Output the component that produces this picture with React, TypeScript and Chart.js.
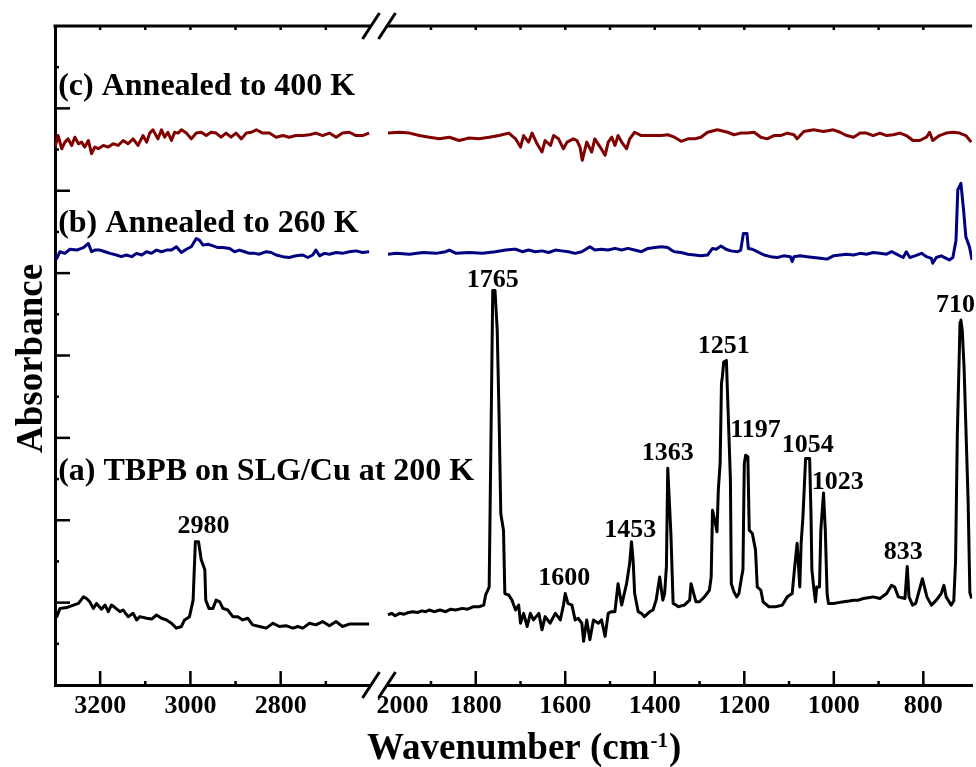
import React, { useEffect, useRef } from 'react';
import { Chart, registerables } from 'chart.js';

Chart.register(...registerables);

// ---------- data (wavenumber cm-1, absorbance in arbitrary units) ----------
const spectrumA_left: [number, number][] = [
  [3300,0.91],[3296,0.83],[3289,0.93],[3274,0.94],[3259,0.97],[3248,0.99],[3237,1.07],[3230,1.05],[3223,1.01],[3215,0.93],
  [3208,0.99],[3197,0.92],[3189,0.97],[3182,0.89],[3175,0.97],[3167,0.94],[3156,0.89],[3149,0.91],[3138,0.83],[3127,0.87],
  [3119,0.79],[3112,0.83],[3097,0.81],[3086,0.80],[3075,0.85],[3064,0.81],[3053,0.79],[3042,0.75],[3031,0.69],[3020,0.71],
  [3013,0.79],[3002,0.83],[2994,1.03],[2989,1.74],[2982,1.74],[2976,1.52],[2968,1.40],[2966,1.03],[2959,0.93],[2950,0.93],
  [2943,1.03],[2935,1.01],[2928,0.93],[2917,0.91],[2906,0.83],[2895,0.83],[2884,0.79],[2873,0.81],[2862,0.73],[2847,0.71],
  [2832,0.69],[2817,0.75],[2803,0.71],[2788,0.72],[2773,0.69],[2762,0.71],[2751,0.69],[2736,0.75],[2722,0.73],[2707,0.77],
  [2692,0.72],[2677,0.77],[2663,0.71],[2648,0.74],[2626,0.74],[2604,0.74]
];
const spectrumA_right: [number, number][] = [
  [1996,0.85],[1988,0.87],[1980,0.84],[1970,0.87],[1960,0.86],[1950,0.88],[1941,0.89],[1930,0.88],[1920,0.90],[1912,0.89],
  [1904,0.91],[1893,0.89],[1880,0.91],[1867,0.89],[1856,0.92],[1845,0.91],[1830,0.93],[1818,0.92],[1805,0.95],[1793,0.95],
  [1782,0.97],[1778,1.09],[1770,1.19],[1762,4.79],[1757,4.79],[1752,4.31],[1748,3.30],[1744,2.08],[1738,1.88],[1735,1.11],
  [1726,1.09],[1719,1.03],[1711,0.91],[1704,0.97],[1700,0.75],[1693,0.87],[1685,0.71],[1678,0.87],[1671,0.79],[1659,0.87],
  [1652,0.67],[1645,0.83],[1634,0.75],[1622,0.87],[1611,0.79],[1604,0.97],[1600,1.11],[1594,0.99],[1585,0.97],[1578,0.79],
  [1571,0.81],[1563,0.75],[1559,0.53],[1552,0.79],[1545,0.55],[1537,0.79],[1526,0.75],[1519,0.79],[1511,0.59],[1504,0.87],
  [1497,0.89],[1489,0.89],[1482,1.23],[1474,0.97],[1463,1.23],[1456,1.48],[1452,1.74],[1448,1.48],[1445,1.11],[1437,0.89],
  [1430,0.87],[1423,0.83],[1411,0.89],[1404,0.91],[1397,1.03],[1389,1.31],[1382,1.03],[1378,1.11],[1374,1.44],[1371,2.63],
  [1364,1.84],[1359,0.99],[1352,0.97],[1348,0.95],[1334,0.97],[1322,1.03],[1319,1.23],[1313,1.11],[1308,1.01],[1300,1.01],
  [1289,1.07],[1278,1.15],[1274,1.31],[1271,2.12],[1266,2.00],[1261,1.86],[1258,2.37],[1254,2.69],[1251,3.66],[1249,3.74],
  [1246,3.92],[1240,3.94],[1236,3.30],[1231,2.49],[1229,1.23],[1223,1.13],[1217,1.07],[1212,1.11],[1206,1.31],[1203,1.40],
  [1200,2.69],[1197,2.79],[1192,2.77],[1189,1.88],[1182,1.84],[1175,1.64],[1171,1.19],[1163,1.15],[1158,1.01],[1145,0.95],
  [1130,0.95],[1115,0.97],[1104,1.07],[1093,1.11],[1088,1.40],[1082,1.72],[1076,1.19],[1073,1.72],[1069,2.04],[1063,2.75],
  [1054,2.75],[1051,2.08],[1049,1.40],[1045,1.19],[1041,1.01],[1038,1.19],[1032,1.19],[1029,1.88],[1023,2.33],[1019,1.88],
  [1015,1.11],[1012,0.99],[1001,0.99],[990,1.00],[978,1.01],[966,1.02],[956,1.03],[945,1.03],[934,1.05],[923,1.06],
  [912,1.07],[897,1.05],[882,1.11],[871,1.21],[864,1.19],[856,1.07],[841,1.05],[836,1.44],[832,1.07],[824,0.97],
  [817,0.99],[802,1.29],[792,1.07],[782,0.97],[771,1.03],[760,1.11],[754,1.21],[749,1.07],[738,0.97],[732,1.02],
  [728,1.50],[724,3.06],[718,4.40],[716,4.43],[713,4.30],[709,3.86],[700,2.25],[696,1.12],[692,1.05]
];
const spectrumB_left: [number, number][] = [
  [3300,5.18],[3296,5.18],[3289,5.26],[3278,5.24],[3267,5.29],[3252,5.28],[3237,5.31],[3226,5.36],[3219,5.26],[3212,5.28],
  [3200,5.28],[3189,5.26],[3178,5.24],[3164,5.22],[3153,5.20],[3142,5.22],[3130,5.20],[3119,5.24],[3108,5.22],[3097,5.26],
  [3086,5.24],[3075,5.28],[3064,5.26],[3053,5.28],[3042,5.28],[3031,5.32],[3020,5.25],[3009,5.29],[2998,5.32],[2987,5.42],
  [2980,5.40],[2972,5.34],[2961,5.35],[2950,5.33],[2939,5.31],[2928,5.31],[2913,5.30],[2902,5.26],[2891,5.28],[2880,5.26],
  [2869,5.24],[2858,5.24],[2847,5.23],[2832,5.26],[2821,5.25],[2810,5.22],[2795,5.20],[2781,5.19],[2766,5.21],[2751,5.22],
  [2740,5.19],[2729,5.22],[2722,5.28],[2714,5.21],[2703,5.24],[2692,5.23],[2677,5.25],[2663,5.24],[2648,5.26],[2633,5.27],
  [2619,5.25],[2604,5.26]
];
const spectrumB_right: [number, number][] = [
  [1996,5.23],[1978,5.24],[1948,5.23],[1918,5.25],[1889,5.24],[1867,5.26],[1859,5.28],[1844,5.24],[1815,5.25],[1785,5.24],
  [1756,5.26],[1733,5.28],[1715,5.29],[1711,5.29],[1696,5.26],[1682,5.28],[1667,5.26],[1652,5.27],[1637,5.25],[1622,5.28],
  [1608,5.27],[1593,5.26],[1578,5.24],[1563,5.26],[1545,5.32],[1534,5.28],[1519,5.29],[1504,5.28],[1489,5.30],[1474,5.28],
  [1460,5.30],[1445,5.28],[1430,5.26],[1415,5.30],[1400,5.31],[1385,5.32],[1371,5.31],[1363,5.28],[1356,5.26],[1341,5.25],
  [1326,5.23],[1311,5.22],[1297,5.21],[1282,5.22],[1271,5.30],[1263,5.29],[1252,5.33],[1241,5.29],[1230,5.27],[1215,5.26],
  [1208,5.28],[1202,5.48],[1194,5.48],[1191,5.30],[1182,5.29],[1171,5.26],[1156,5.22],[1141,5.20],[1126,5.19],[1112,5.21],
  [1097,5.20],[1093,5.14],[1089,5.20],[1075,5.21],[1060,5.20],[1045,5.19],[1030,5.18],[1015,5.17],[1001,5.21],[986,5.22],
  [971,5.23],[956,5.22],[941,5.24],[927,5.23],[912,5.25],[897,5.24],[882,5.23],[871,5.26],[860,5.23],[845,5.19],
  [838,5.26],[830,5.19],[819,5.21],[804,5.24],[793,5.20],[782,5.18],[779,5.12],[771,5.19],[760,5.21],[749,5.18],
  [742,5.16],[734,5.19],[727,5.40],[723,6.01],[716,6.09],[710,5.76],[705,5.44],[697,5.32],[691,5.16]
];
const spectrumC_left: [number, number][] = [
  [3300,6.53],[3293,6.67],[3285,6.51],[3278,6.59],[3271,6.63],[3263,6.55],[3256,6.65],[3248,6.57],[3241,6.59],[3234,6.53],
  [3226,6.61],[3219,6.45],[3212,6.53],[3204,6.51],[3193,6.55],[3182,6.53],[3171,6.57],[3160,6.55],[3149,6.61],[3138,6.57],
  [3127,6.63],[3116,6.55],[3105,6.67],[3097,6.59],[3090,6.70],[3083,6.74],[3072,6.63],[3064,6.74],[3057,6.65],[3050,6.71],
  [3042,6.61],[3035,6.71],[3027,6.70],[3020,6.74],[3009,6.70],[2998,6.63],[2987,6.70],[2976,6.71],[2965,6.67],[2954,6.71],
  [2943,6.70],[2932,6.65],[2921,6.70],[2910,6.65],[2899,6.70],[2887,6.63],[2876,6.70],[2865,6.71],[2854,6.74],[2840,6.70],
  [2825,6.70],[2810,6.65],[2795,6.67],[2781,6.65],[2766,6.67],[2751,6.67],[2736,6.68],[2722,6.70],[2707,6.67],[2692,6.70],
  [2677,6.65],[2663,6.70],[2648,6.71],[2633,6.67],[2619,6.67],[2604,6.70]
];
const spectrumC_right: [number, number][] = [
  [1996,6.70],[1970,6.71],[1948,6.70],[1926,6.67],[1904,6.65],[1881,6.63],[1859,6.65],[1837,6.61],[1815,6.64],[1793,6.63],
  [1770,6.65],[1748,6.67],[1726,6.70],[1711,6.63],[1700,6.53],[1693,6.67],[1682,6.59],[1674,6.70],[1663,6.57],[1652,6.47],
  [1645,6.61],[1633,6.55],[1626,6.67],[1615,6.63],[1604,6.51],[1596,6.59],[1582,6.63],[1574,6.61],[1567,6.53],[1562,6.37],
  [1552,6.59],[1541,6.47],[1534,6.63],[1522,6.53],[1511,6.43],[1504,6.59],[1496,6.65],[1489,6.55],[1482,6.67],[1474,6.59],
  [1463,6.51],[1456,6.63],[1445,6.71],[1430,6.67],[1415,6.67],[1400,6.67],[1385,6.67],[1371,6.68],[1356,6.65],[1341,6.60],
  [1326,6.63],[1311,6.63],[1297,6.65],[1282,6.71],[1260,6.74],[1237,6.71],[1223,6.68],[1208,6.70],[1193,6.70],[1178,6.71],
  [1163,6.65],[1149,6.63],[1134,6.67],[1119,6.67],[1104,6.70],[1089,6.68],[1082,6.63],[1067,6.72],[1045,6.74],[1023,6.72],
  [1001,6.74],[986,6.71],[971,6.67],[956,6.65],[941,6.70],[927,6.70],[912,6.67],[897,6.70],[882,6.67],[867,6.68],
  [852,6.70],[838,6.67],[823,6.61],[808,6.61],[793,6.65],[786,6.71],[779,6.61],[764,6.67],[749,6.70],[734,6.71],
  [719,6.70],[705,6.67],[693,6.59]
];

// peak annotations: text, anchor wavenumber, anchor absorbance (baseline of text)
const peakLabels = ['2980', '1765', '1600', '1453', '1363', '1251', '1197', '1054', '1023', '833', '710'];
const peakLabelWn = [2971, 1762, 1602, 1455, 1371, 1246, 1175, 1058, 991, 845, 728];
const peakLabelAbs = [1.84, 4.83, 1.21, 1.80, 2.73, 4.03, 3.01, 2.83, 2.38, 1.53, 4.53];
const peakLabelAxis = ['xl', 'xr', 'xr', 'xr', 'xr', 'xr', 'xr', 'xr', 'xr', 'xr', 'xr'];

const seriesLabels = ['(c) Annealed to 400 K', '(b) Annealed to 260 K', '(a) TBPB on SLG/Cu at 200 K'];
const seriesLabelWn = [3293, 3293, 3293];
const seriesLabelAbs = [7.16, 5.5, 2.49];

const leftRange = [2581, 3300];
const rightRange = [691, 2015];
const yRange = [0, 8];
const leftTickLabels = [3200, 3000, 2800];
const rightTickLabels = [2000, 1800, 1600, 1400, 1200, 1000, 800];

const colorA = '#000000';
const colorB = '#000080';
const colorC = '#800000';
const SERIF = "'Liberation Serif', 'Times New Roman', serif";

const decorPlugin = {
  id: 'decor',
  afterDraw(chart: any) {
    const { ctx, chartArea, scales } = chart;
    const xl = scales.xl, xr = scales.xr, y = scales.y;
    const { top, bottom, left, right } = chartArea;
    const bx = xl.right;
    ctx.save();
    ctx.strokeStyle = '#000';
    ctx.lineCap = 'butt';
    // top frame line
    ctx.lineWidth = 3;
    ctx.beginPath();
    ctx.moveTo(left - 1.5, top);
    ctx.lineTo(right, top);
    ctx.stroke();
    // x tick marks (inside)
    ctx.lineWidth = 2.5;
    for (const s of [xl, xr]) {
      for (const t of s.ticks) {
        const px = s.getPixelForValue(t.value);
        if (px < left + 4 || px > right - 6 || Math.abs(px - bx) < 14) continue;
        const major = t.value % 200 === 0;
        const len = major ? 14 : 4;
        ctx.beginPath();
        ctx.moveTo(px, bottom);
        ctx.lineTo(px, bottom - len);
        ctx.stroke();
        ctx.beginPath();
        ctx.moveTo(px, top);
        ctx.lineTo(px, top + 4);
        ctx.stroke();
      }
    }
    // y tick marks (inside)
    for (const t of y.ticks) {
      const py = y.getPixelForValue(t.value);
      if (t.value <= yRange[0] || t.value >= yRange[1]) continue;
      const major = Math.abs(t.value - Math.round(t.value)) < 1e-6;
      const len = major ? 15 : 4;
      ctx.beginPath();
      ctx.moveTo(left, py);
      ctx.lineTo(left + len, py);
      ctx.stroke();
    }
    // axis breaks
    for (const ay of [top, bottom]) {
      const k = 17 / 26;
      ctx.fillStyle = '#fff';
      ctx.beginPath();
      ctx.moveTo(bx - 8.5 - 4 * k, ay + 4);
      ctx.lineTo(bx - 8.5 + 4 * k, ay - 4);
      ctx.lineTo(bx + 7.5 + 4 * k, ay - 4);
      ctx.lineTo(bx + 7.5 - 4 * k, ay + 4);
      ctx.closePath();
      ctx.fill();
      ctx.lineWidth = 3;
      ctx.beginPath();
      ctx.moveTo(bx - 17, ay + 13);
      ctx.lineTo(bx, ay - 13);
      ctx.moveTo(bx - 1, ay + 13);
      ctx.lineTo(bx + 16, ay - 13);
      ctx.stroke();
    }
    // peak labels
    ctx.fillStyle = '#000';
    ctx.font = `bold 26px ${SERIF}`;
    ctx.textAlign = 'center';
    ctx.textBaseline = 'alphabetic';
    peakLabels.forEach((txt, i) => {
      const s = scales[peakLabelAxis[i]];
      ctx.fillText(txt, s.getPixelForValue(peakLabelWn[i]), y.getPixelForValue(peakLabelAbs[i]));
    });
    // series labels
    ctx.font = `bold 32px ${SERIF}`;
    ctx.textAlign = 'left';
    seriesLabels.forEach((txt, i) => {
      ctx.fillText(txt, xl.getPixelForValue(seriesLabelWn[i]), y.getPixelForValue(seriesLabelAbs[i]));
    });
    // y title
    ctx.save();
    ctx.translate(42, (top + bottom) / 2 + 3);
    ctx.rotate(-Math.PI / 2);
    ctx.font = `bold 37px ${SERIF}`;
    ctx.textAlign = 'center';
    ctx.fillText('Absorbance', 0, 0);
    ctx.restore();
    // x title with superscript
    const tx = 367, ty = 759;
    ctx.font = `bold 37px ${SERIF}`;
    ctx.textAlign = 'left';
    const p1 = 'Wavenumber (cm';
    ctx.fillText(p1, tx, ty);
    const w1 = ctx.measureText(p1).width;
    ctx.font = `bold 21px ${SERIF}`;
    const sup = '-1';
    ctx.fillText(sup, tx + w1 + 1, ty - 12);
    const w2 = ctx.measureText(sup).width;
    ctx.font = `bold 37px ${SERIF}`;
    ctx.fillText(')', tx + w1 + w2 + 2, ty);
    ctx.restore();
  }
};

function makeDataset(points: [number, number][], axis: string, color: string) {
  return {
    data: points.map(([x, v]) => ({ x, y: v })),
    xAxisID: axis,
    yAxisID: 'y',
    showLine: true,
    borderColor: color,
    backgroundColor: color,
    borderWidth: 3,
    borderJoinStyle: 'round' as const,
    pointRadius: 0,
    fill: false,
    tension: 0,
  };
}

function xScale(range: number[], weight: number, labels: number[], isRight: boolean) {
  return {
    type: 'linear' as const,
    position: 'bottom' as const,
    stack: 'x',
    stackWeight: weight,
    min: range[0],
    max: range[1],
    reverse: true,
    grid: { display: true, drawOnChartArea: false, drawTicks: false, color: 'rgba(0,0,0,0)' },
    border: { display: true, color: '#000', width: 3 },
    ticks: {
      stepSize: 100,
      includeBounds: false,
      autoSkip: false,
      maxRotation: 0,
      padding: 6,
      color: '#000',
      font: { family: SERIF, weight: 'bold' as const, size: 26 },
      callback: (v: any) => {
        if (!labels.includes(Number(v))) return '';
        if (isRight && Number(v) === 2000) return '     2000';
        return String(v);
      },
    },
    afterFit: (s: any) => { s.height = 82; },
  };
}

export default function App() {
  const ref = useRef<HTMLCanvasElement | null>(null);
  useEffect(() => {
    if (!ref.current) return;
    const chart = new Chart(ref.current, {
      type: 'scatter',
      data: {
        datasets: [
          makeDataset(spectrumA_left, 'xl', colorA),
          makeDataset(spectrumA_right, 'xr', colorA),
          makeDataset(spectrumB_left, 'xl', colorB),
          makeDataset(spectrumB_right, 'xr', colorB),
          makeDataset(spectrumC_left, 'xl', colorC),
          makeDataset(spectrumC_right, 'xr', colorC),
        ] as any,
      },
      options: {
        animation: false,
        responsive: false,
        devicePixelRatio: 1,
        events: [],
        layout: { padding: { top: 26, left: 0, right: 0, bottom: 0 } },
        plugins: { legend: { display: false }, tooltip: { enabled: false } },
        scales: {
          xl: xScale(leftRange, leftRange[1] - leftRange[0] + 6, leftTickLabels, false),
          xr: xScale(rightRange, rightRange[1] - rightRange[0] + 0, rightTickLabels, true),
          y: {
            type: 'linear',
            position: 'left',
            min: yRange[0],
            max: yRange[1],
            grid: { display: true, drawOnChartArea: false, drawTicks: false, color: 'rgba(0,0,0,0)' },
            border: { display: true, color: '#000', width: 3 },
            ticks: { display: false, stepSize: 0.5 },
            afterFit: (s: any) => { s.width = 55; },
          },
        } as any,
      },
      plugins: [decorPlugin],
    });
    return () => chart.destroy();
  }, []);
  return (
    <div style={{ position: 'fixed', left: 0, top: 0, width: 976, height: 767, overflow: 'hidden', background: '#fff' }}>
      <canvas ref={ref} width={976} height={767} style={{ display: 'block' }} />
    </div>
  );
}
